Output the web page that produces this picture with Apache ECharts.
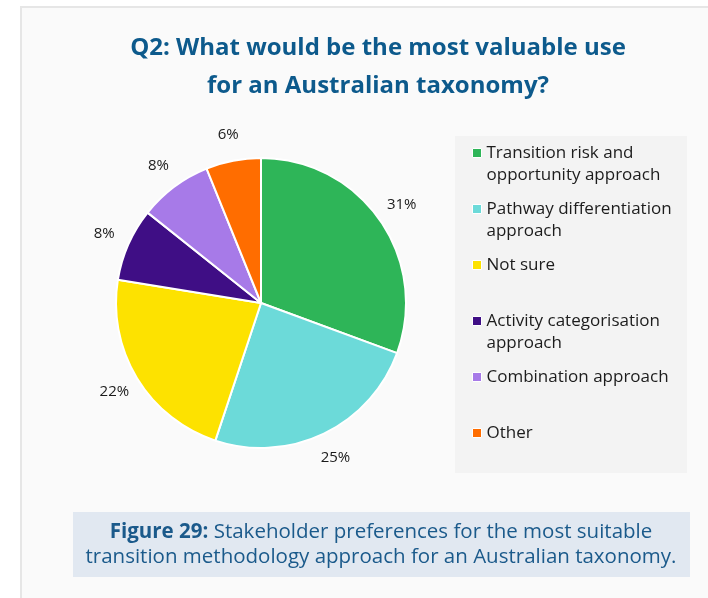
<!DOCTYPE html>
<html>
<head>
<meta charset="utf-8">
<script src="https://cdn.jsdelivr.net/npm/echarts@6/dist/echarts.min.js"></script>
<style>
html,body{margin:0;padding:0;background:#ffffff;}
#chart{width:708px;height:598px;}
</style>
</head>
<body>
<div id="chart"></div>
<script>
// ---- data ----
const categories = [
  'Transition risk and opportunity approach',
  'Pathway differentiation approach',
  'Not sure',
  'Activity categorisation approach',
  'Combination approach',
  'Other'
];
// respondent counts (31%, 25%, 22%, 8%, 8%, 6%)
const counts = [15, 12, 11, 4, 4, 3];
const legendLines = [
  ['Transition risk and', 'opportunity approach'],
  ['Pathway differentiation', 'approach'],
  ['Not sure', ' '],
  ['Activity categorisation', 'approach'],
  ['Combination approach', ' '],
  ['Other', ' ']
];
const colors = ['#2eb558', '#6cdad9', '#fde200', '#3f0e85', '#a77ae8', '#ff6d00'];
const titleText = 'Q2: What would be the most valuable use\nfor an Australian taxonomy?';
const captionBold = 'Figure 29:';
const captionLine1 = ' Stakeholder preferences for the most suitable';
const captionLine2 = 'transition methodology approach for an Australian taxonomy.';

const FONT = 'Open Sans';
const pieData = categories.map((c, i) => ({ name: c, value: counts[i], itemStyle: { color: colors[i] } }));
const labelData = categories.map((c, i) => ({ name: c, value: counts[i] }));

const chart = echarts.init(document.getElementById('chart'), null, { renderer: 'canvas' });
chart.setOption({
  backgroundColor: '#ffffff',
  animation: false,
  graphic: [
    { type: 'rect', z: -10, shape: { x: 21, y: 7, width: 720, height: 620 },
      style: { fill: '#fafafa', stroke: '#e6e6e6', lineWidth: 2 } },
    { type: 'rect', z: -9, shape: { x: 455, y: 136, width: 232, height: 337 },
      style: { fill: '#f3f3f3' } },
    { type: 'rect', z: -9, shape: { x: 73, y: 512, width: 617, height: 65 },
      style: { fill: '#e1e8f1' } }
  ],
  title: [
    {
      text: titleText,
      left: 378, top: 29, padding: 0, textAlign: 'center',
      textStyle: { fontFamily: FONT, fontSize: 24, fontWeight: 'bold', color: '#0d5a8c', lineHeight: 38 }
    },
    {
      text: '{b|' + captionBold + '}' + captionLine1 + '\n' + captionLine2,
      left: 381, top: 520, padding: 0, textAlign: 'center',
      textStyle: {
        fontFamily: FONT, fontSize: 20.5, fontWeight: 'normal', color: '#1b5a8b', lineHeight: 25,
        rich: { b: { fontFamily: FONT, fontSize: 20.5, fontWeight: 'bold', color: '#1b5a8b', lineHeight: 25 } }
      }
    }
  ],
  legend: {
    orient: 'vertical',
    left: 472, top: 120, padding: 0,
    itemWidth: 9, itemHeight: 9, itemGap: -10,
    icon: 'rect',
    data: categories,
    itemStyle: { borderColor: '#ffffff', borderWidth: 1 },
    formatter: function (name) {
      const i = categories.indexOf(name);
      return ' \n' + legendLines[i].join('\n');
    },
    textStyle: { fontFamily: FONT, fontSize: 17, color: '#1c1c1c', lineHeight: 22 }
  },
  series: [
    {
      type: 'pie',
      center: [261, 303],
      radius: [0, 145],
      startAngle: 90,
      clockwise: true,
      silent: true,
      data: pieData,
      label: { show: false },
      labelLine: { show: false },
      itemStyle: { borderColor: '#ffffff', borderWidth: 2 }
    },
    {
      type: 'pie',
      center: [261, 303],
      radius: [145, 192],
      startAngle: 90,
      clockwise: true,
      silent: true,
      percentPrecision: 0,
      data: labelData,
      itemStyle: { color: 'rgba(0,0,0,0)', borderWidth: 0 },
      label: {
        show: true, position: 'inside', formatter: '{d}%',
        fontFamily: FONT, fontSize: 15, color: '#1a1a1a'
      },
      labelLine: { show: false }
    }
  ]
});
</script>
</body>
</html>
